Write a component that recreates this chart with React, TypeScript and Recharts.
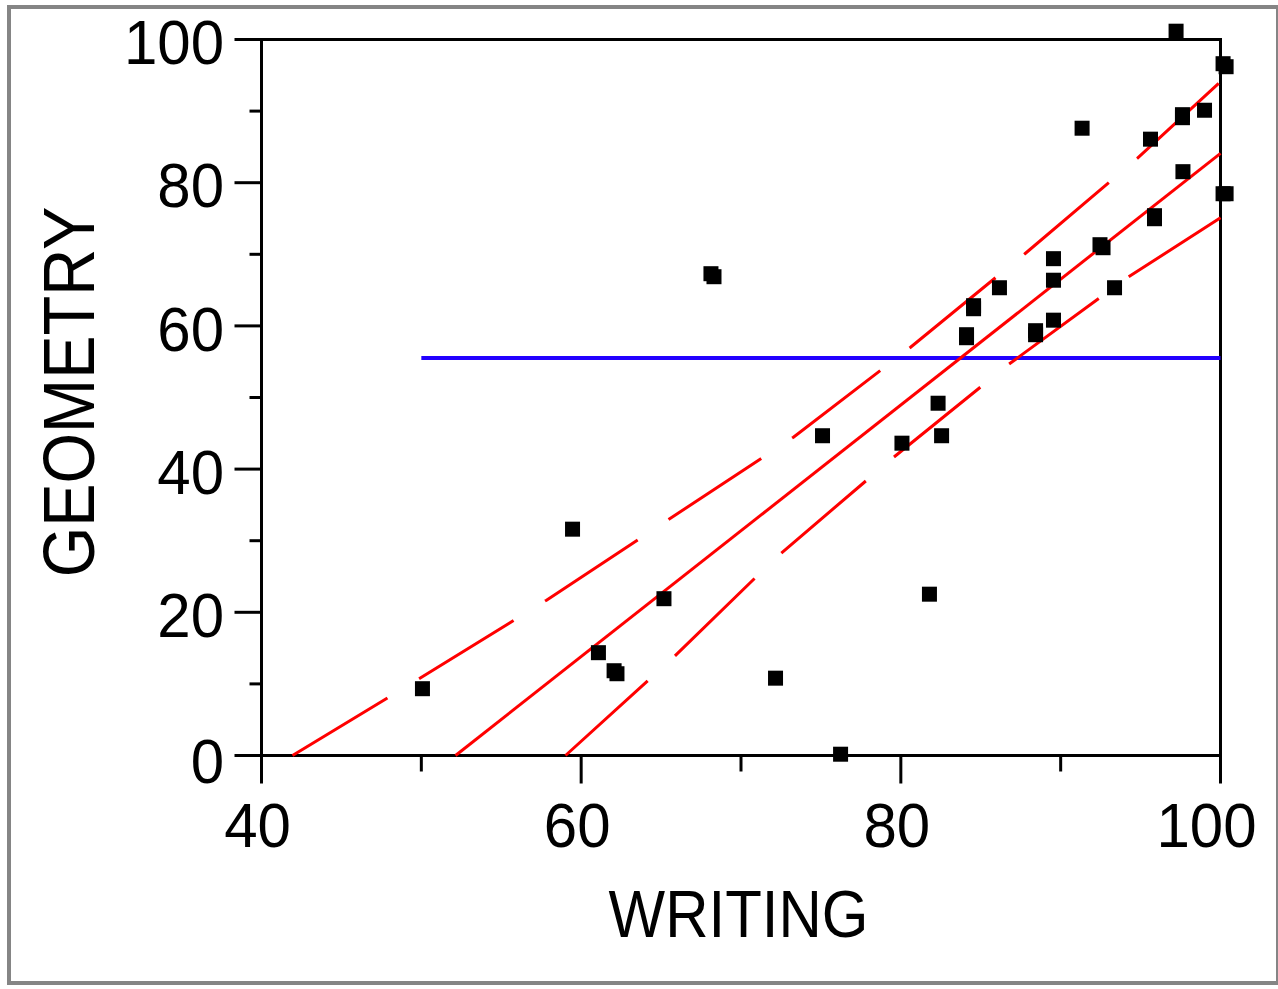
import React from "react";
import {
  ComposedChart,
  XAxis,
  YAxis,
  Line,
  Scatter,
  ReferenceArea,
} from "recharts";

// ---- data ----
const writing = [
  50.07, 59.46, 61.08, 62.06, 62.24, 65.18, 68.12, 68.31, 72.16, 75.1,
  76.23, 80.07, 81.79, 82.33, 82.55, 84.11, 84.11, 84.55, 84.55, 86.17,
  88.43, 88.43, 89.55, 89.55, 89.55, 91.34, 92.46, 92.65, 93.37, 95.62,
  95.87, 95.87, 97.22, 97.62, 97.62, 97.65, 99.0, 100.16, 100.35, 100.16,
  100.35,
];
const geometry = [
  9.33, 31.61, 14.36, 11.84, 11.42, 21.9, 67.29, 66.87, 10.8, 44.66,
  0.18, 43.62, 22.53, 49.2, 44.66, 58.77, 58.35, 62.82, 62.4, 65.33,
  59.33, 58.77, 69.39, 66.38, 60.8, 87.61, 71.34, 70.92, 65.33, 86.08,
  75.39, 74.97, 101.16, 89.5, 89.08, 81.54, 90.12, 96.62, 96.2, 78.46,
  78.46,
];

const fitX = [52.14, 100];
const fitY = [0, 84.1];

const upperX = [41.94, 49.82, 57.83, 65.4, 73.28, 80.61, 87.8, 94.81, 100];
const upperY = [0, 10.66, 21.69, 32.86, 44.45, 57.02, 70.15, 83.42, 94.1];

const lowerX = [59.02, 65.72, 72.22, 79.48, 86.68, 94.12, 100];
const lowerY = [0, 13.59, 27.7, 41.52, 54.52, 66.66, 75.1];

const meanX = [50, 100];
const meanY = [55.5, 55.5];

const xTicks = [40, 50, 60, 70, 80, 90, 100];
const yTicks = [0, 10, 20, 30, 40, 50, 60, 70, 80, 90, 100];

const xTitle = "WRITING";
const yTitle = "GEOMETRY";

const zip = (xs: number[], ys: number[]) => xs.map((x, i) => ({ x, y: ys[i] }));

const points = zip(writing, geometry);
const fitData = zip(fitX, fitY);
const upperData = zip(upperX, upperY);
const lowerData = zip(lowerX, lowerY);
const meanData = zip(meanX, meanY);

const FONT = "'Liberation Sans', Arial, Helvetica, sans-serif";

const Square = (props: any) => {
  const { cx, cy } = props;
  if (cx == null || cy == null) return null;
  return <rect x={cx - 7.5} y={cy - 7.5} width={15} height={15} fill="#000" />;
};

const XTick = (props: any) => {
  const { x, y, payload } = props;
  const v = payload.value;
  const major = v % 20 === 0;
  const dx = v === 100 ? -14 : -4;
  return (
    <g>
      <line x1={x} x2={x} y1={y} y2={y + (major ? 28 : 16)} stroke="#000" strokeWidth={3} />
      {major && (
        <text
          transform={`translate(${x + dx},${y + 91}) scale(1,1.05)`}
          textAnchor="middle"
          fontSize={60}
          fontFamily={FONT}
          fill="#000"
        >
          {v}
        </text>
      )}
    </g>
  );
};

const YTick = (props: any) => {
  const { x, y, payload } = props;
  const v = payload.value;
  const major = v % 20 === 0;
  const dy = v === 0 ? 5 : 2;
  return (
    <g>
      <line x1={x} x2={x - (major ? 27 : 12)} y1={y} y2={y} stroke="#000" strokeWidth={3} />
      {major && (
        <text
          transform={`translate(224,${y + dy + 22.6}) scale(1,1.05)`}
          textAnchor="end"
          fontSize={60}
          fontFamily={FONT}
          fill="#000"
        >
          {v}
        </text>
      )}
    </g>
  );
};

const XTitle = () => (
  <text
    transform="translate(738.5,937) scale(1,1.12)"
    textAnchor="middle"
    fontSize={60}
    fontFamily={FONT}
    fill="#000"
  >
    {xTitle}
  </text>
);

const YTitle = () => (
  <text
    transform="translate(94,392) rotate(-90) scale(1,1.1)"
    textAnchor="middle"
    fontSize={65}
    fontFamily={FONT}
    fill="#000"
  >
    {yTitle}
  </text>
);

export default function App() {
  return (
    <div style={{ position: "absolute", left: 0, top: 0, width: 1278, height: 989, background: "#fff" }}>
      <div
        style={{
          position: "absolute",
          left: 7,
          top: 5,
          width: 1273,
          height: 980,
          border: "4px solid #858585",
          boxSizing: "border-box",
        }}
      />
      <div style={{ position: "absolute", left: 0, top: 0 }}>
        <ComposedChart
          width={1278}
          height={989}
          margin={{ top: 18.02, right: 25.53, bottom: 0, left: 0 }}
        >
          <XAxis
            type="number"
            dataKey="x"
            domain={[40, 102]}
            ticks={xTicks}
            axisLine={false}
            tickLine={false}
            tickSize={0}
            tickMargin={0}
            height={233.5}
            tick={<XTick />}
            interval={0}
            label={{ content: () => <XTitle /> }}
          />
          <YAxis
            type="number"
            dataKey="y"
            domain={[0, 103]}
            ticks={yTicks}
            axisLine={false}
            tickLine={false}
            tickSize={0}
            tickMargin={0}
            width={261.5}
            tick={<YTick />}
            interval={0}
            label={{ content: () => <YTitle /> }}
          />
          <ReferenceArea
            x1={40}
            x2={100}
            y1={0}
            y2={100}
            fill="none"
            fillOpacity={0}
            stroke="#000"
            strokeWidth={3}
            ifOverflow="visible"
          />
          <Line
            data={meanData}
            dataKey="y"
            type="linear"
            stroke="#2200ff"
            strokeWidth={4}
            dot={false}
            activeDot={false}
            isAnimationActive={false}
          />
          <Line
            data={upperData}
            dataKey="y"
            type="linear"
            stroke="#ff0000"
            strokeWidth={3}
            strokeDasharray="111 37"
            dot={false}
            activeDot={false}
            isAnimationActive={false}
          />
          <Line
            data={lowerData}
            dataKey="y"
            type="linear"
            stroke="#ff0000"
            strokeWidth={3}
            strokeDasharray="111 37"
            dot={false}
            activeDot={false}
            isAnimationActive={false}
          />
          <Line
            data={fitData}
            dataKey="y"
            type="linear"
            stroke="#ff0000"
            strokeWidth={3}
            dot={false}
            activeDot={false}
            isAnimationActive={false}
          />
          <Scatter data={points} dataKey="y" shape={<Square />} isAnimationActive={false} />
        </ComposedChart>
      </div>
    </div>
  );
}
